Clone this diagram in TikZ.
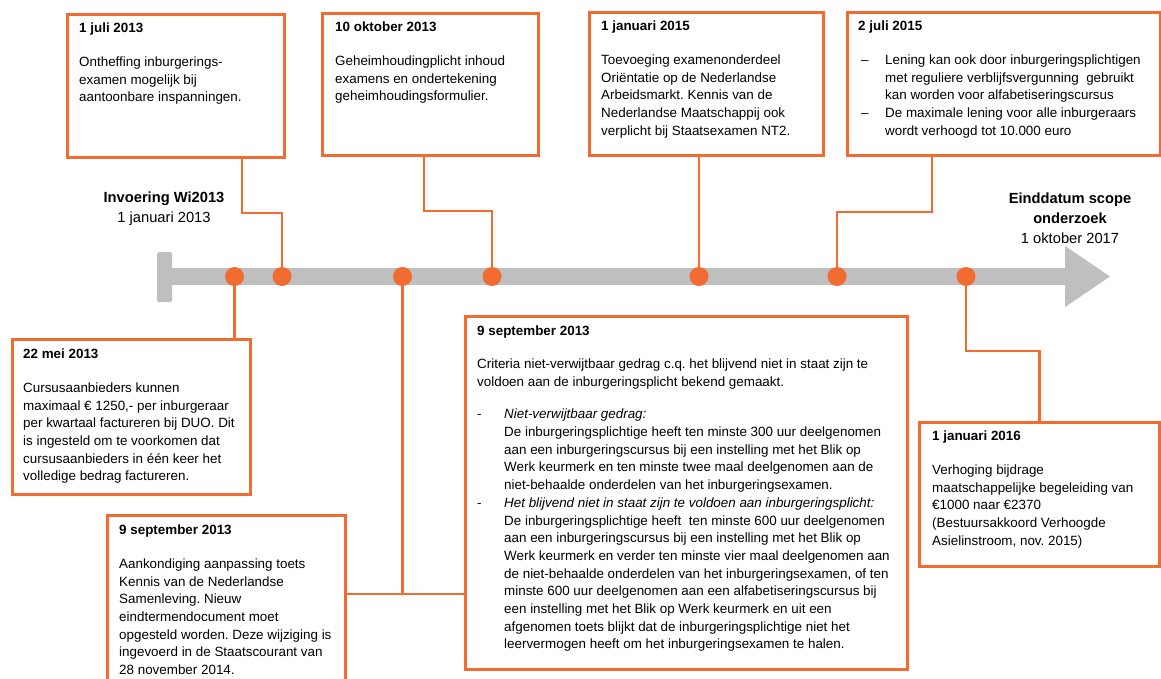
\documentclass[tikz,border=0pt]{standalone}
\usepackage{fontspec}
\setmainfont{Liberation Sans}
\definecolor{tlorange}{RGB}{242,108,49}
\definecolor{tlgray}{RGB}{191,191,191}
\newcommand\firstln{\rule{0pt}{10.5pt}}
\newcommand\bul[1]{\makebox[27pt][l]{#1}}
\newcommand\ind{\hspace*{27pt}}
\frenchspacing
\begin{document}
\begin{tikzpicture}[x=1pt,y=-1pt,
  box/.style={draw=tlorange, line width=2.8pt, rectangle, inner sep=0pt, anchor=north west},
  txt/.style={anchor=north west, inner sep=0pt, align=left, font=\fontsize{13.4}{17.7}\selectfont},
  lbl/.style={anchor=base, inner sep=0pt, font=\fontsize{14.7}{20}\selectfont},
  conn/.style={draw=tlorange, line width=2.8pt},
  dot/.style={circle, fill=tlorange, minimum size=19pt, inner sep=0pt}]
\useasboundingbox (0,0) rectangle (1161,678);
\clip (0,0) rectangle (1161,678);

% timeline arrow
\fill[tlgray] (157,268) rectangle (1066,285);
\fill[tlgray, rounded corners=1.5pt] (157,252) rectangle (172,302);
\fill[tlgray] (1065,246) -- (1110,276.5) -- (1065,307) -- cycle;

% dots
\node[dot] (d1) at (234.5,276.5) {};
\node[dot] (d2) at (282,276.5) {};
\node[dot] (d3) at (402.5,276.5) {};
\node[dot] (d4) at (492,276.5) {};
\node[dot] (d5) at (699,276.5) {};
\node[dot] (d6) at (837,276.5) {};
\node[dot] (d7) at (966,276.5) {};

% boxes
\node[box, minimum width=217pt, minimum height=143pt] (A) at (66,13) {};
\node[box, minimum width=216pt, minimum height=142pt] (B) at (321,12) {};
\node[box, minimum width=234pt, minimum height=143pt] (C) at (588,11) {};
\node[box, minimum width=313pt, minimum height=143pt] (D) at (846,11) {};
\node[box, minimum width=238pt, minimum height=155pt] (E) at (11,338) {};
\node[box, minimum width=238pt, minimum height=190pt] (F) at (106,514) {};
\node[box, minimum width=442pt, minimum height=353pt] (G) at (464,315) {};
\node[box, minimum width=240pt, minimum height=144pt] (H) at (918,421) {};

% connectors
\coordinate (a1) at (242,213);
\draw[conn] (A.south -| a1) -- (a1) -| (d2);
\coordinate (b1) at (424,211);
\draw[conn] (B.south -| b1) -- (b1) -| (d4);
\draw[conn] (C.south -| d5) -- (d5);
\coordinate (c1) at (932,212);
\draw[conn] (D.south -| c1) -- (c1) -| (d6);
\draw[conn] (d1) -- (d1 |- E.north);
\coordinate (j) at (402.5,594);
\draw[conn] (d3) -- (j);
\draw[conn] (F.east |- j) -- (G.west |- j);
\coordinate (h1) at (966,351);
\draw[conn] (d7) -- (h1) -| (H.north);

% labels on the timeline
\node[lbl] (l1) at (164,202) {\bfseries Invoering Wi2013};
\node[lbl] (l2) at (164,222.5) {1 januari 2013};
\node[lbl] (l3) at (1070,203.3) {\bfseries Einddatum scope};
\node[lbl] (l4) at (1070,223) {\bfseries onderzoek};
\node[lbl] (l5) at (1070,243) {1 oktober 2017};

% box texts
\node[txt] (tA) at ([shift={(13pt,-9pt)}]A.north west) {\firstln\textbf{1 juli 2013}\\[16pt]
Ontheffing inburgerings-\\examen mogelijk bij\\aantoonbare inspanningen.};
\node[txt] (tB) at ([shift={(14pt,-9pt)}]B.north west) {\firstln\textbf{10 oktober 2013}\\[16pt]
Geheimhoudingplicht inhoud\\examens en ondertekening\\geheimhoudingsformulier.};
\node[txt] (tC) at ([shift={(13pt,-9pt)}]C.north west) {\firstln\textbf{1 januari 2015}\\[16pt]
Toevoeging examenonderdeel\\Oriëntatie op de Nederlandse\\Arbeidsmarkt. Kennis van de\\Nederlandse Maatschappij ook\\verplicht bij Staatsexamen NT2.};
\node[txt] (tD) at ([shift={(12pt,-9pt)}]D.north west) {\firstln\textbf{2 juli 2015}\\[16pt]
\bul{\hspace{3pt}–}Lening kan ook door inburgeringsplichtigen\\
\ind met reguliere verblijfsvergunning\ \ gebruikt\\
\ind kan worden voor alfabetiseringscursus\\
\bul{\hspace{3pt}–}De maximale lening voor alle inburgeraars\\
\ind wordt verhoogd tot 10.000 euro};
\node[txt] (tE) at ([shift={(12pt,-10pt)}]E.north west) {\firstln\textbf{22 mei 2013}\\[16pt]
Cursusaanbieders kunnen\\maximaal € 1250,- per inburgeraar\\per kwartaal factureren bij DUO. Dit\\is ingesteld om te voorkomen dat\\cursusaanbieders in één keer het\\volledige bedrag factureren.};
\node[txt] (tF) at ([shift={(13pt,-10pt)}]F.north west) {\firstln\textbf{9 september 2013}\\[16pt]
Aankondiging aanpassing toets\\Kennis van de Nederlandse\\Samenleving. Nieuw\\eindtermendocument moet\\opgesteld worden. Deze wijziging is\\ingevoerd in de Staatscourant van\\28 november 2014.};
\node[txt] (tG) at ([shift={(13pt,-10pt)}]G.north west) {\firstln\textbf{9 september 2013}\\[15pt]
Criteria niet-verwijtbaar gedrag c.q. het blijvend niet in staat zijn te\\
voldoen aan de inburgeringsplicht bekend gemaakt.\\[15pt]
\bul{-}\textit{Niet-verwijtbaar gedrag:}\\
\ind De inburgeringsplichtige heeft ten minste 300 uur deelgenomen\\
\ind aan een inburgeringscursus bij een instelling met het Blik op\\
\ind Werk keurmerk en ten minste twee maal deelgenomen aan de\\
\ind niet-behaalde onderdelen van het inburgeringsexamen.\\
\bul{-}\textit{Het blijvend niet in staat zijn te voldoen aan inburgeringsplicht:}\\
\ind De inburgeringsplichtige heeft\ \ ten minste 600 uur deelgenomen\\
\ind aan een inburgeringscursus bij een instelling met het Blik op\\
\ind Werk keurmerk en verder ten minste vier maal deelgenomen aan\\
\ind de niet-behaalde onderdelen van het inburgeringsexamen, of ten\\
\ind minste 600 uur deelgenomen aan een alfabetiseringscursus bij\\
\ind een instelling met het Blik op Werk keurmerk en uit een\\
\ind afgenomen toets blijkt dat de inburgeringsplichtige niet het\\
\ind leervermogen heeft om het inburgeringsexamen te halen.};
\node[txt] (tH) at ([shift={(14pt,-9pt)}]H.north west) {\firstln\textbf{1 januari 2016}\\[16pt]
Verhoging bijdrage\\maatschappelijke begeleiding van\\€1000 naar €2370\\(Bestuursakkoord Verhoogde\\Asielinstroom, nov. 2015)};
\end{tikzpicture}
\end{document}
